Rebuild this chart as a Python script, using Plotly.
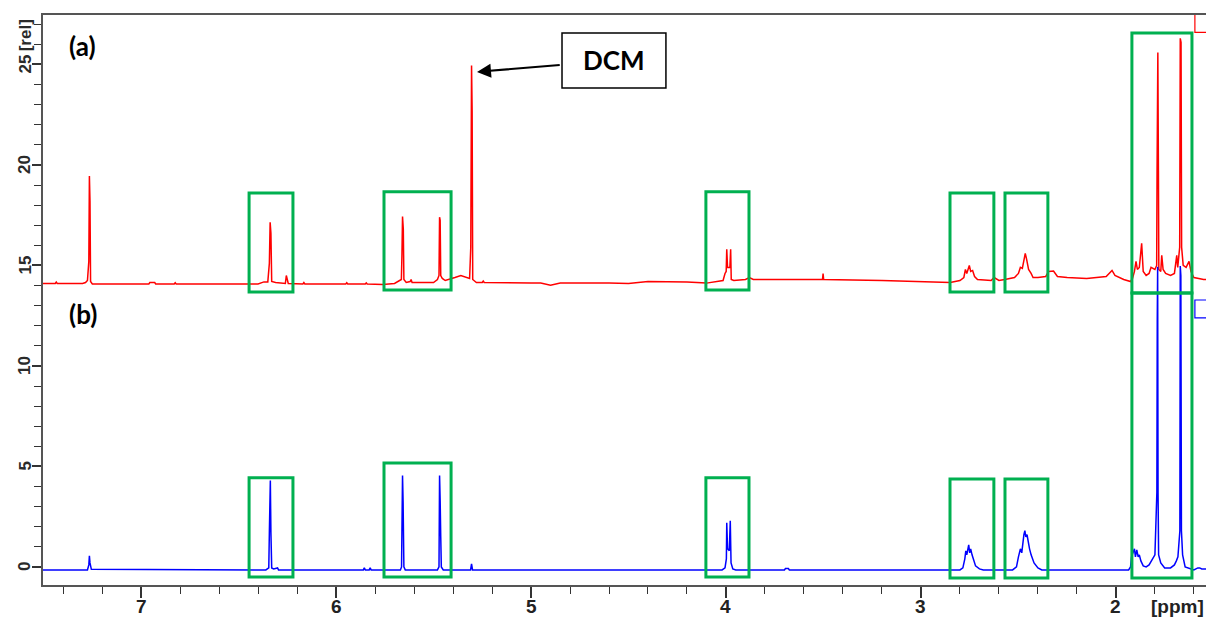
import plotly.graph_objects as go

# ---------------- data ----------------
# spectrum (a), red: chemical shift [ppm] and intensity [rel]
red_ppm = [7.503, 7.44, 7.435, 7.43, 7.30, 7.285, 7.275, 7.268, 7.265, 7.262, 7.259, 7.25,
           6.96, 6.955, 6.93, 6.925, 6.83, 6.825, 6.82,
           6.40, 6.37, 6.35, 6.342, 6.338, 6.334, 6.330, 6.31, 6.26, 6.255, 6.25, 6.245,
           6.17, 6.165, 6.16, 5.95, 5.945, 5.94, 5.85, 5.845, 5.84,
           5.76, 5.70, 5.665, 5.662, 5.659, 5.655, 5.652, 5.64, 5.62, 5.615, 5.61,
           5.50, 5.48, 5.472, 5.469, 5.466, 5.463, 5.455, 5.44, 5.42, 5.39, 5.36, 5.33,
           5.315, 5.309, 5.305, 5.302, 5.299, 5.28, 5.25, 5.245, 5.24,
           5.0, 4.95, 4.90, 4.85, 4.6, 4.5, 4.4, 4.2, 4.10,
           4.03, 4.015, 4.005, 3.999, 3.996, 3.992, 3.980, 3.976, 3.973, 3.96, 3.90, 3.88, 3.86,
           3.70, 3.505, 3.502, 3.499, 3.2, 2.9, 2.85,
           2.80, 2.78, 2.772, 2.765, 2.752, 2.745, 2.735, 2.725, 2.71, 2.67, 2.64, 2.625, 2.61, 2.60,
           2.57, 2.52, 2.50, 2.49, 2.48, 2.475, 2.465, 2.458, 2.448, 2.435, 2.425, 2.40,
           2.36, 2.345, 2.32, 2.30, 2.25, 2.15, 2.10, 2.05, 2.02, 2.005, 1.96, 1.925,
           1.915, 1.905, 1.897, 1.89, 1.88, 1.868, 1.86, 1.845, 1.83, 1.82, 1.80,
           1.791, 1.789, 1.787, 1.785, 1.782, 1.780, 1.77, 1.765, 1.758, 1.745, 1.72, 1.70,
           1.688, 1.683, 1.673, 1.670, 1.666, 1.663, 1.655, 1.64, 1.625, 1.615, 1.60, 1.58,
           1.55, 1.538]
red_int = [14.10, 14.10, 14.17, 14.10, 14.10, 14.15, 14.25, 15.2, 19.45, 18.2, 14.2, 14.08,
           14.08, 14.15, 14.15, 14.08, 14.08, 14.14, 14.08,
           14.08, 14.18, 14.18, 15.1, 17.15, 16.6, 14.2, 14.15, 14.1, 14.5, 14.3, 14.1,
           14.08, 14.15, 14.08, 14.08, 14.14, 14.08, 14.08, 14.13, 14.08,
           14.05, 14.1, 14.3, 15.5, 17.43, 16.8, 14.3, 14.15, 14.2, 14.3, 14.15,
           14.15, 14.3, 14.5, 17.4, 17.25, 14.5, 14.35, 14.25, 14.3, 14.4, 14.5, 14.4,
           14.35, 15.9, 24.95, 22.7, 14.3, 14.15, 14.15, 14.22, 14.15,
           14.12, 14.12, 14.02, 14.12, 14.12, 14.1, 14.2, 14.18, 14.12,
           14.2, 14.25, 14.6, 14.7, 15.8, 14.9, 14.9, 15.8, 14.3, 14.25, 14.3, 14.4, 14.3,
           14.3, 14.3, 14.6, 14.3, 14.25, 14.15, 14.15,
           14.25, 14.4, 14.8, 14.6, 15.0, 14.7, 14.75, 14.45, 14.3, 14.25, 14.25, 14.4, 14.3, 14.25,
           14.3, 14.4, 14.6, 14.9, 14.85, 15.1, 15.6, 15.3, 14.8, 14.6, 14.4, 14.4,
           14.45, 14.7, 14.72, 14.45, 14.4, 14.35, 14.4, 14.45, 14.75, 14.5, 14.3, 14.2,
           14.35, 14.7, 15.2, 14.8, 14.9, 16.1, 14.7, 14.5, 14.6, 14.9, 14.8,
           15.0, 19.7, 23.1, 25.6, 19.7, 14.8, 14.7, 15.5, 14.8, 14.6, 14.5, 14.6,
           15.5, 14.9, 15.9, 26.3, 26.1, 15.9, 15.0, 14.9, 15.2, 14.7, 14.4, 14.35,
           14.3, 14.3]

# spectrum (b), blue
blue_ppm = [7.503, 7.275, 7.268, 7.265, 7.262, 7.255,
            6.36, 6.345, 6.342, 6.340, 6.337, 6.334, 6.330, 6.32, 6.30, 6.295,
            5.86, 5.855, 5.85, 5.83, 5.825, 5.82,
            5.67, 5.664, 5.661, 5.659, 5.656, 5.652, 5.645,
            5.48, 5.472, 5.469, 5.466, 5.463, 5.46, 5.45,
            5.31, 5.305, 5.30,
            4.02, 4.005, 3.998, 3.996, 3.992, 3.983, 3.978, 3.974, 3.965, 3.95,
            3.70, 3.695, 3.68, 3.675,
            2.80, 2.785, 2.775, 2.77, 2.765, 2.76, 2.755, 2.75, 2.745, 2.738, 2.73, 2.72, 2.70, 2.68,
            2.53, 2.51, 2.50, 2.49, 2.483, 2.478, 2.472, 2.467, 2.462, 2.456, 2.45, 2.443, 2.435,
            2.42, 2.40, 2.38,
            1.935, 1.925, 1.92, 1.912, 1.905, 1.90, 1.893, 1.886, 1.88, 1.872, 1.86, 1.845, 1.83,
            1.80, 1.790, 1.788, 1.786, 1.784, 1.781, 1.77, 1.75, 1.72, 1.70, 1.69, 1.682,
            1.672, 1.670, 1.667, 1.664, 1.658, 1.645, 1.62, 1.60, 1.58, 1.57, 1.56, 1.538]
blue_int = [-0.15, -0.15, 0.1, 0.55, 0.2, -0.12,
            -0.15, -0.05, 1.7, 3.2, 4.3, 1.7, -0.05, -0.1, -0.05, -0.15,
            -0.15, -0.05, -0.15, -0.15, -0.05, -0.15,
            -0.15, 0.0, 1.6, 4.55, 3.2, 0.0, -0.15,
            -0.15, 0.0, 4.55, 3.3, 1.5, 0.0, -0.15,
            -0.15, 0.15, -0.15,
            -0.15, -0.05, 0.4, 2.2, 0.9, 0.8, 2.3, 0.2, -0.1, -0.15,
            -0.15, -0.08, -0.08, -0.15,
            -0.15, -0.05, 0.4, 0.8, 0.6, 1.0, 1.1, 0.7, 0.9, 0.6, 0.3, 0.05, -0.1, -0.15,
            -0.15, 0.0, 0.5, 0.9, 0.7, 1.3, 1.6, 1.8, 1.5, 1.6, 1.2, 0.9, 0.6,
            0.2, -0.05, -0.15,
            -0.15, 0.0, 0.5, 0.7, 0.9, 0.5, 0.85, 0.5, 0.6, 0.3, 0.05, 0.0, 0.1,
            0.6, 3.7, 12.3, 14.93, 3.7, 0.6, 0.2, -0.05, -0.05, 0.1, 0.3, 0.5,
            1.8, 14.97, 14.5, 1.8, 0.6, 0.0, -0.1, -0.15, -0.05, -0.05, -0.1, -0.1]

x_tick_vals = [7, 6, 5, 4, 3, 2]
y_tick_vals = [0, 5, 10, 15, 20, 25]

# highlighted regions (ppm from, ppm to, intensity bottom, intensity top)
red_regions = [(6.446, 6.221, 13.68, 18.60), (5.754, 5.410, 13.78, 18.66),
               (4.103, 3.882, 13.78, 18.66), (2.851, 2.626, 13.68, 18.60),
               (2.569, 2.349, 13.68, 18.60), (1.918, 1.610, 13.63, 26.57)]
blue_regions = [(6.446, 6.221, -0.50, 4.43), (5.754, 5.410, -0.50, 5.17),
                (4.103, 3.882, -0.50, 4.43), (2.851, 2.626, -0.55, 4.38),
                (2.569, 2.349, -0.55, 4.38), (1.918, 1.610, -0.55, 13.63)]

X_RANGE = [7.503, 1.538]
Y_RANGE = [-0.9, 27.46]
PLOT_LEFT, PLOT_RIGHT = 43, 1206

# ---------------- figure ----------------
fig = go.Figure()
fig.add_trace(go.Scatter(x=red_ppm, y=red_int, mode="lines",
                         line=dict(color="#FF0000", width=1.5), showlegend=False))
fig.add_trace(go.Scatter(x=blue_ppm, y=blue_int, mode="lines",
                         line=dict(color="#0000FF", width=1.5), showlegend=False))

GREEN = "#00B050"
shapes = []
for (x0, x1, y0, y1) in red_regions + blue_regions:
    shapes.append(dict(type="rect", xref="x", yref="y", x0=x0, x1=x1, y0=y0, y1=y1,
                       line=dict(color=GREEN, width=3), fillcolor="rgba(0,0,0,0)",
                       layer="above"))
# small spectrum markers at the right edge
shapes.append(dict(type="rect", xref="x", yref="y", x0=1.595, x1=1.53, y0=26.6, y1=27.5,
                   line=dict(color="#FF0000", width=1.2)))
shapes.append(dict(type="rect", xref="x", yref="y", x0=1.595, x1=1.53, y0=12.39, y1=13.28,
                   line=dict(color="#0000FF", width=1.2)))
# DCM label box
shapes.append(dict(type="rect", xref="x", yref="y", x0=4.841, x1=4.308, y0=23.83, y1=26.57,
                   line=dict(color="#000000", width=1.5), fillcolor="white", layer="above"))

LABEL_FONT = dict(family="Lato, Open Sans, sans-serif", size=26, color="black", weight="bold")
XTICK_FONT = dict(family="Liberation Sans Narrow, Liberation Sans, Arial", size=19,
                  color="#222222", weight="bold")
YTICK_FONT = dict(family="Liberation Sans, Arial", size=17, color="#2a2a2a", weight="bold")
label_x = (25 - PLOT_LEFT) / (PLOT_RIGHT - PLOT_LEFT)

annotations = [
    dict(x=4.574, y=25.2, xref="x", yref="y", text="DCM", showarrow=False, font=LABEL_FONT),
    dict(x=5.277, y=24.63, xref="x", yref="y", ax=4.845, ay=24.98, axref="x", ayref="y",
         text="", showarrow=True, arrowhead=2, arrowsize=1.4, arrowwidth=2,
         arrowcolor="black", standoff=0),
    dict(x=7.30, y=25.9, xref="x", yref="y", text="(a)", showarrow=False, font=LABEL_FONT),
    dict(x=7.30, y=12.6, xref="x", yref="y", text="(b)", showarrow=False, font=LABEL_FONT),
    dict(x=label_x, y=26.45, xref="paper", yref="y", text="[rel]", showarrow=False,
         textangle=-90, xanchor="center", yanchor="middle", font=YTICK_FONT),
    dict(x=1.0, y=0, xref="paper", yref="paper", text="[ppm]", showarrow=False,
         xanchor="right", yanchor="middle", yshift=-21, font=XTICK_FONT),
]
# x tick labels placed just under the tick marks
for v in x_tick_vals:
    annotations.append(dict(x=v, y=0, xref="x", yref="paper", text=str(v),
                            showarrow=False, xanchor="center", yanchor="middle",
                            yshift=-21, font=XTICK_FONT))
# y tick labels, rotated like the spectrometer software draws them
for v in y_tick_vals:
    annotations.append(dict(x=label_x, y=v, xref="paper", yref="y", text=str(v),
                            showarrow=False, textangle=-90, xanchor="center",
                            yanchor="middle", font=YTICK_FONT))

fig.update_layout(
    width=1206, height=618,
    margin=dict(l=PLOT_LEFT, r=0, t=15, b=33, autoexpand=False),
    plot_bgcolor="white", paper_bgcolor="white",
    shapes=shapes, annotations=annotations,
    xaxis=dict(range=X_RANGE, tickvals=x_tick_vals, showticklabels=False,
               automargin=False,
               showgrid=False, zeroline=False, showline=True, mirror=True,
               linecolor="#555", linewidth=1.5, ticks="outside", ticklen=11,
               tickcolor="#333", tickwidth=1.5,
               minor=dict(dtick=0.2, tick0=0, ticks="outside", ticklen=7,
                          tickcolor="#333", tickwidth=1.2, showgrid=False)),
    yaxis=dict(range=Y_RANGE, tickvals=y_tick_vals, showticklabels=False, automargin=False,
               showgrid=False, zeroline=False, showline=True,
               linecolor="#555", linewidth=1.5, ticks="outside", ticklen=9,
               tickcolor="#333", tickwidth=1.5,
               minor=dict(dtick=1, tick0=0, ticks="outside", ticklen=7,
                          tickcolor="#333", tickwidth=1.2, showgrid=False)),
)

fig.write_html("out.html")
